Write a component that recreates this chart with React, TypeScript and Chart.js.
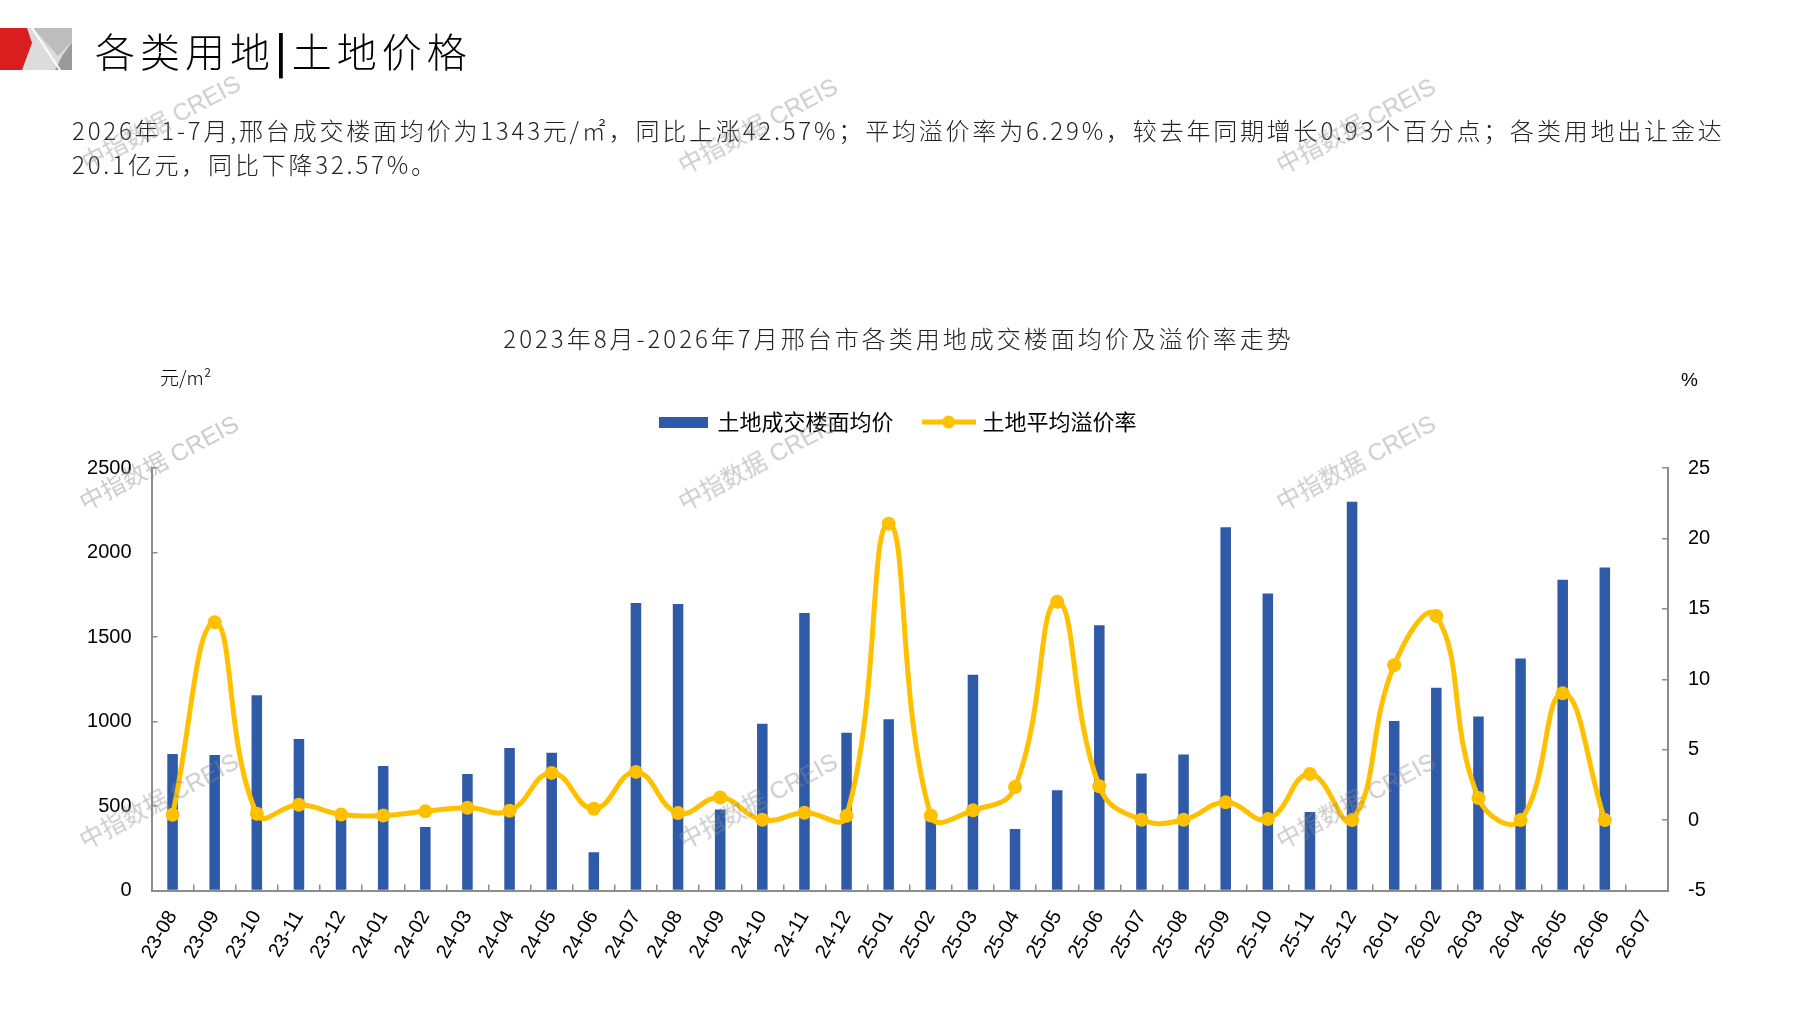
import React, { useEffect, useRef } from 'react';
import { Chart, registerables } from 'chart.js';

Chart.register(...registerables);

// 月份（横轴）
const months = [
	'23-08', '23-09', '23-10', '23-11', '23-12',
	'24-01', '24-02', '24-03', '24-04', '24-05', '24-06', '24-07', '24-08', '24-09', '24-10', '24-11', '24-12',
	'25-01', '25-02', '25-03', '25-04', '25-05', '25-06', '25-07', '25-08', '25-09', '25-10', '25-11', '25-12',
	'26-01', '26-02', '26-03', '26-04', '26-05', '26-06', '26-07',
];

// 土地成交楼面均价（元/m²）
const landPrice = [
	808, 802, 1155, 897, 450,
	736, 376, 690, 843, 815, 227, 1701, 1695, 479, 987, 1642, 934,
	1013, 440, 1276, 364, 593, 1570, 692, 804, 2150, 1758, 465, 2300,
	1003, 1199, 1030, 1373, 1839, 1911, null,
];

// 土地平均溢价率（%）
const premiumRate = [
	0.38, 14.05, 0.45, 1.09, 0.4,
	0.33, 0.62, 0.88, 0.66, 3.35, 0.81, 3.42, 0.5, 1.6, 0.02, 0.52, 0.3,
	21.05, 0.33, 0.69, 2.35, 15.5, 2.4, 0.02, 0.02, 1.26, 0.07, 3.28, 0,
	11.0, 14.5, 1.57, 0, 9.0, 0, null,
];

const seriesNames = ['土地成交楼面均价', '土地平均溢价率'];
const priceAxis = { min: 0, max: 2500, step: 500 };
const rateAxis = { min: -5, max: 25, step: 5 };

const BLUE = '#2F5AA8';
const GOLD = '#FFC000';
const AXIS = '#8c8c8c';
const CJK = "'Noto Sans CJK SC', sans-serif";
const LATIN = "'Liberation Sans', Arial, sans-serif";

const watermarkSpots = [
	[160, 121], [757, 124], [1355, 124],
	[158, 461], [757, 461], [1355, 461],
	[158, 799], [757, 799], [1355, 799],
];

function icon(w: number, h: number, draw: (ctx: CanvasRenderingContext2D) => void) {
	const c = document.createElement('canvas');
	c.width = w;
	c.height = h;
	draw(c.getContext('2d')!);
	return c;
}

export default function App() {
	const canvas = useRef<HTMLCanvasElement>(null!);

	useEffect(() => {
		document.body.style.margin = '0';

		const barIcon = icon(49, 11, ctx => {
			ctx.fillStyle = BLUE;
			ctx.fillRect(0, 0, 49, 11);
		});
		const lineIcon = icon(54, 14, ctx => {
			ctx.strokeStyle = GOLD;
			ctx.lineWidth = 5;
			ctx.beginPath();
			ctx.moveTo(0, 7);
			ctx.lineTo(54, 7);
			ctx.stroke();
			ctx.fillStyle = GOLD;
			ctx.beginPath();
			ctx.arc(27, 7, 6.5, 0, Math.PI * 2);
			ctx.fill();
		});

		// fixed legend height so the plot area starts where the reference has it
		const legendSpace = {
			id: 'legendSpace',
			beforeInit(chart: any) {
				const fit = chart.legend.fit;
				chart.legend.fit = function () {
					fit.call(this);
					this.height = 89;
				};
			},
		};

		const plain = (v: any) => String(v);

		const chart = new Chart(canvas.current, {
			type: 'bar',
			data: {
				labels: months,
				datasets: [
					{
						type: 'bar',
						label: seriesNames[0],
						data: landPrice,
						backgroundColor: BLUE,
						barPercentage: 0.25,
						categoryPercentage: 1,
						yAxisID: 'y',
						order: 1,
					},
					{
						type: 'line',
						label: seriesNames[1],
						data: premiumRate,
						borderColor: GOLD,
						backgroundColor: GOLD,
						borderWidth: 5,
						tension: 0.45,
						pointRadius: 7,
						pointBorderWidth: 0,
						pointBackgroundColor: GOLD,
						yAxisID: 'y1',
						order: 0,
					} as any,
				],
			},
			options: {
				animation: false,
				responsive: true,
				maintainAspectRatio: false,
				layout: { padding: { top: 379, left: 0, right: 0, bottom: 0 } },
				plugins: {
					title: { display: false },
					tooltip: { enabled: false },
					legend: {
						position: 'top',
						labels: {
							usePointStyle: true,
							pointStyleWidth: 46,
							padding: 32,
							color: '#000',
							font: { family: CJK, size: 22 },
							generateLabels: (c: Chart) => {
								const items = Chart.defaults.plugins.legend.labels.generateLabels(c);
								items.sort((a, b) => (a.datasetIndex ?? 0) - (b.datasetIndex ?? 0));
								items.forEach(it => {
									it.pointStyle = it.datasetIndex === 0 ? barIcon : lineIcon;
									it.rotation = 0;
								});
								return items;
							},
						},
					},
				},
				scales: {
					x: {
						type: 'category',
						offset: true,
						grid: { drawOnChartArea: false, drawTicks: true, tickLength: -6, color: AXIS, lineWidth: 1.5, offset: true },
						border: { color: AXIS, width: 2 },
						ticks: {
							autoSkip: false,
							minRotation: 60,
							maxRotation: 60,
							padding: 22,
							color: '#000',
							font: { family: LATIN, size: 20 },
						},
						afterFit: (s: any) => { s.height = 119.5; },
					},
					y: {
						type: 'linear',
						position: 'left',
						min: priceAxis.min,
						max: priceAxis.max,
						grid: { drawOnChartArea: false, drawTicks: true, tickLength: -6, color: AXIS, lineWidth: 1.5 },
						border: { color: AXIS, width: 2 },
						ticks: {
							stepSize: priceAxis.step,
							padding: 26,
							color: '#000',
							font: { family: LATIN, size: 20 },
							callback: plain,
						},
						afterFit: (s: any) => { s.width = 151.5; },
					},
					y1: {
						type: 'linear',
						position: 'right',
						min: rateAxis.min,
						max: rateAxis.max,
						grid: { drawOnChartArea: false, drawTicks: true, tickLength: -6, color: AXIS, lineWidth: 1.5 },
						border: { color: AXIS, width: 2 },
						ticks: {
							stepSize: rateAxis.step,
							padding: 26,
							color: '#000',
							font: { family: LATIN, size: 20 },
							callback: plain,
						},
						afterFit: (s: any) => { s.width = 129; },
					},
				},
			},
			plugins: [legendSpace],
		});

		return () => {
			chart.destroy();
		};
	}, []);

	return <div style={{ position: 'relative', width: 1797, height: 1010, background: '#fff', overflow: 'hidden', fontFamily: CJK }}>
		<div style={{ position: 'absolute', left: 0, top: 0, width: 1797, height: 1010 }}>
			<canvas ref={canvas}></canvas>
		</div>

		<svg style={{ position: 'absolute', left: 0, top: 28 }} width={74} height={43} viewBox="0 0 74 43">
			<rect x={20} y={0} width={52} height={42} fill="#dcdcdc" />
			<polygon points="33,0 72,0 72,13 58,28" fill="#bdbdbd" />
			<polygon points="72,14 72,42 55,42 62,28" fill="#9b9b9b" />
			<line x1={32} y1={0} x2={60} y2={42} stroke="#fff" strokeWidth={2} />
			<polygon points="0,0 27,0 32,15 22,42 0,42" fill="#D81E1E" />
		</svg>

		<div style={{ position: 'absolute', left: 95, top: 26, fontSize: 40, lineHeight: '48px', letterSpacing: 5, color: '#000', whiteSpace: 'nowrap', fontWeight: 300 }}>
			各类用地<span style={{ fontWeight: 700 }}>|</span>土地价格
		</div>

		<div style={{ position: 'absolute', left: 72, top: 113, fontSize: 24, lineHeight: '34px', letterSpacing: 2.8, color: '#222', whiteSpace: 'nowrap', fontWeight: 300 }}>
			2026年1-7月,邢台成交楼面均价为1343元/㎡，同比上涨42.57%；平均溢价率为6.29%，较去年同期增长0.93个百分点；各类用地出让金达<br />
			20.1亿元，同比下降32.57%。
		</div>

		<div style={{ position: 'absolute', left: 0, width: 1797, top: 322, textAlign: 'center', fontSize: 24, lineHeight: '32px', letterSpacing: 3, color: '#222', whiteSpace: 'nowrap', fontWeight: 300 }}>
			2023年8月-2026年7月邢台市各类用地成交楼面均价及溢价率走势
		</div>

		<div style={{ position: 'absolute', left: 160, top: 364, fontSize: 19, lineHeight: '26px', color: '#000', fontWeight: 300 }}>元/m²</div>
		<div style={{ position: 'absolute', left: 1681, top: 367, fontSize: 19, lineHeight: '26px', color: '#000', fontFamily: LATIN }}>%</div>

		{watermarkSpots.map(([x, y], i) => (
			<div key={i} style={{
				position: 'absolute', left: x, top: y, transform: 'translate(-50%, -50%) rotate(-28deg)',
				fontSize: 24, color: 'rgba(140,140,140,0.45)', whiteSpace: 'nowrap', pointerEvents: 'none',
				fontFamily: "'Liberation Sans', 'Noto Sans CJK SC', sans-serif",
			}}>中指数据 CREIS</div>
		))}
	</div>;
}
